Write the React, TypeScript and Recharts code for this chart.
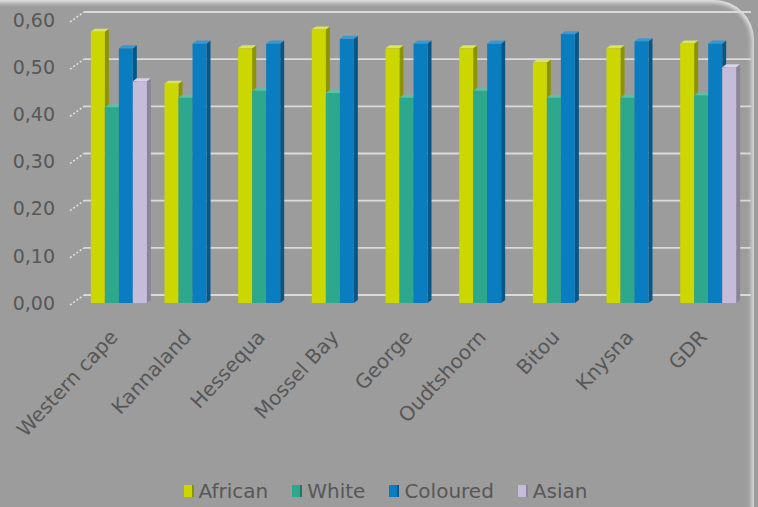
import { BarChart, Bar, XAxis, YAxis, CartesianGrid, Legend } from 'recharts';

const categories = ['Western cape', 'Kannaland', 'Hessequa', 'Mossel Bay', 'George', 'Oudtshoorn', 'Bitou', 'Knysna', 'GDR'];
const african = [0.575, 0.465, 0.54, 0.58, 0.54, 0.54, 0.51, 0.54, 0.55];
const white = [0.415, 0.435, 0.45, 0.445, 0.435, 0.45, 0.435, 0.435, 0.44];
const coloured = [0.54, 0.55, 0.55, 0.56, 0.55, 0.55, 0.57, 0.555, 0.55];
const asian = [0.47, null, null, null, null, null, null, null, 0.5];
const yTicks = [0, 0.1, 0.2, 0.3, 0.4, 0.5, 0.6];

const data = categories.map((name, i) => ({
  name,
  African: african[i],
  White: white[i],
  Coloured: coloured[i],
  Asian: asian[i],
}));

const series = [
  { key: 'African', fill: '#ccd600', side: '#8c9300', top: '#dde35a' },
  { key: 'White', fill: '#2ea88c', side: '#1d7562', top: '#5cc0a8' },
  { key: 'Coloured', fill: '#0a7cc0', side: '#075685', top: '#3b97cf' },
  { key: 'Asian', fill: '#c4bcd8', side: '#8a8399', top: '#d8d2e6' },
];

const FONT = '"DejaVu Sans", sans-serif';
const TEXT = '#575757';
const DX = 4;
const DY = 3;

const Box3D = (colors: { fill: string; side: string; top: string }) => (props: any) => {
  const { x, y, width, height } = props;
  if (!height || height <= 0) return null;
  return (
    <g>
      <polygon
        points={`${x + width},${y} ${x + width + DX},${y - DY} ${x + width + DX},${y + height - DY} ${x + width},${y + height}`}
        fill={colors.side}
      />
      <polygon
        points={`${x},${y} ${x + DX},${y - DY} ${x + width + DX},${y - DY} ${x + width},${y}`}
        fill={colors.top}
      />
      <rect x={x} y={y} width={width} height={height} fill={colors.fill} />
    </g>
  );
};

const GridLine = (props: any) => {
  const { x1, x2, y1 } = props;
  return (
    <g>
      <line x1={x1 - 12} y1={y1 + 2} x2={x1 + 2} y2={y1 - 8} stroke="#e4e4e4" strokeWidth={1.5} strokeDasharray="2 2" />
      <line x1={x1 + 2} y1={y1 - 8} x2={x2 + 6} y2={y1 - 8} stroke="#dadada" strokeWidth={1.8} />
    </g>
  );
};

const LabelTick = (props: any) => {
  const { x, y, payload } = props;
  const tx = x;
  const ty = y + 27;
  return (
    <text
      x={tx}
      y={ty}
      transform={`rotate(-47, ${tx}, ${ty})`}
      textAnchor="end"
      fill={TEXT}
      fontSize={20}
      fontFamily={FONT}
    >
      {payload.value}
    </text>
  );
};

const LegendContent = () => (
  <div style={{ display: 'flex', justifyContent: 'center', gap: 24, fontFamily: FONT, fontSize: 20, color: TEXT, paddingTop: 12, paddingLeft: 26 }}>
    {series.map((s) => (
      <div key={s.key} style={{ display: 'flex', alignItems: 'center' }}>
        <span style={{ display: 'inline-block', width: 8, height: 12, background: s.fill, borderRight: `2px solid ${s.side}`, marginRight: 5 }} />
        <span>{s.key}</span>
      </div>
    ))}
  </div>
);

export default function App() {
  return (
    <div
      style={{
        position: 'absolute',
        left: 0,
        top: 0,
        width: 758,
        height: 507,
        background: '#9c9c9c',
        overflow: 'hidden',
      }}
    >
      <div
        style={{
          position: 'absolute',
          left: -4,
          top: 0,
          width: 758,
          height: 540,
          borderTopRightRadius: 40,
          boxShadow: 'inset 0 3px 4px rgba(235,235,235,0.8), inset -3px 0 4px rgba(235,235,235,0.6)',
        }}
      />
      <BarChart
        width={758}
        height={507}
        data={data}
        margin={{ top: 20, right: 13, left: 0, bottom: 4 }}
        barGap={0}
        barCategoryGap="12%"
        style={{ position: 'absolute', left: 0, top: 0 }}
      >
        <CartesianGrid vertical={false} horizontal={<GridLine />} />
        <XAxis
          dataKey="name"
          axisLine={false}
          tickLine={false}
          interval={0}
          height={164}
          tick={<LabelTick />}
        />
        <YAxis
          width={82}
          domain={[0, 0.6]}
          ticks={yTicks}
          axisLine={false}
          tickLine={false}
          tickMargin={21}
          tickFormatter={(v: number) => v.toFixed(2).replace('.', ',')}
          tick={{ fill: TEXT, fontSize: 19, fontFamily: FONT }}
        />
        <Legend verticalAlign="bottom" height={36} content={<LegendContent />} />
        {series.map((s) => (
          <Bar key={s.key} dataKey={s.key} fill={s.fill} shape={Box3D(s)} isAnimationActive={false} />
        ))}
      </BarChart>
    </div>
  );
}
